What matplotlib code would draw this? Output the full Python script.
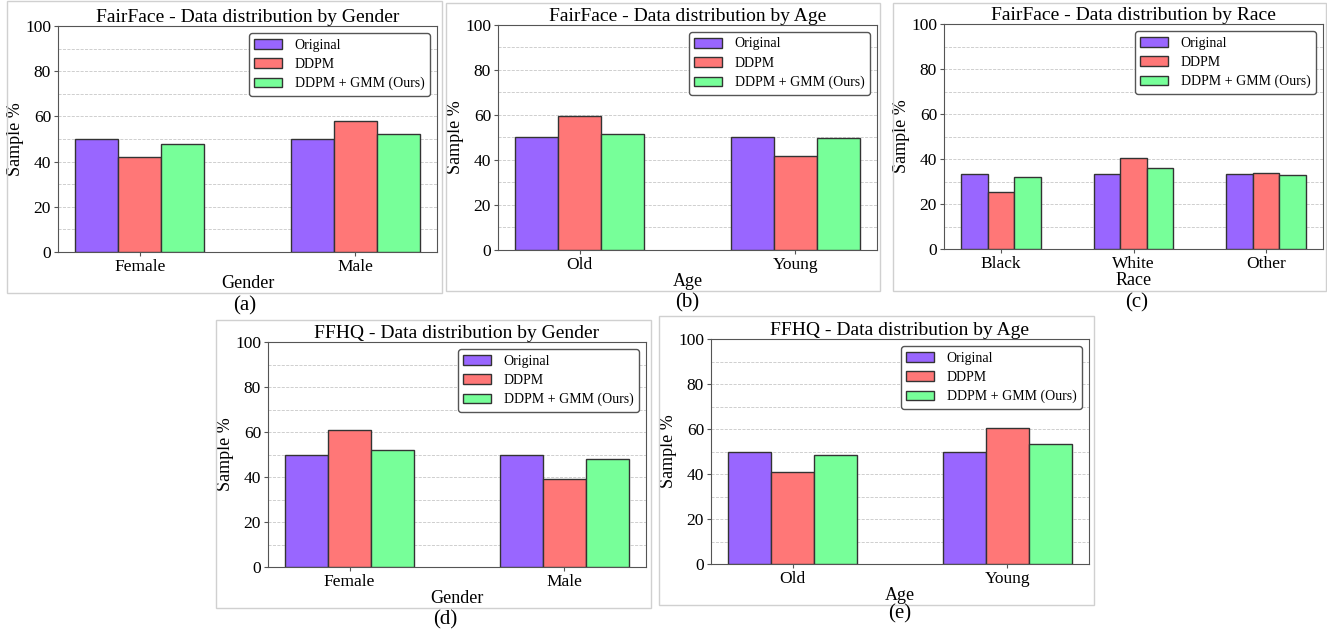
import matplotlib
matplotlib.use("Agg")
import matplotlib.pyplot as plt
import numpy as np
from matplotlib.patches import Rectangle

plt.rcParams['font.family'] = ['Liberation Serif', 'DejaVu Serif']

series_names = ["Original", "DDPM", "DDPM + GMM (Ours)"]
series_colors = ["#9966ff", "#ff7777", "#77ff99"]

# Panel (a) FairFace - Gender
a_categories = ["Female", "Male"]
a_original = [50, 50]
a_ddpm = [42, 58]
a_ours = [48, 52]

# Panel (b) FairFace - Age
b_categories = ["Old", "Young"]
b_original = [50, 50]
b_ddpm = [59.6, 41.6]
b_ours = [51.4, 49.6]

# Panel (c) FairFace - Race
c_categories = ["Black", "White", "Other"]
c_original = [33.3, 33.3, 33.3]
c_ddpm = [25.3, 40.3, 33.8]
c_ours = [32.0, 36.0, 32.9]

# Panel (d) FFHQ - Gender
d_categories = ["Female", "Male"]
d_original = [50, 50]
d_ddpm = [61.0, 39.0]
d_ours = [52.1, 47.9]

# Panel (e) FFHQ - Age
e_categories = ["Old", "Young"]
e_original = [50, 50]
e_ddpm = [40.9, 60.3]
e_ours = [48.3, 53.2]

W, H = 1327, 629
fig = plt.figure(figsize=(W / 100, H / 100), dpi=100)

def px_axes(l, r, t, b):
    return fig.add_axes([l / W, 1 - b / H, (r - l) / W, (b - t) / H])

def border(l, r, t, b):
    fig.patches.append(Rectangle((l / W, 1 - b / H), (r - l) / W, (b - t) / H,
                                 transform=fig.transFigure, fill=False,
                                 edgecolor="#d0d0d0", linewidth=1.0))

def caption(x, y, s):
    fig.text(x / W, 1 - y / H, s, ha="center", va="center", fontsize=15)

def panel(ax, title, xlabel, cats, vals_list):
    x = np.arange(len(cats))
    w = 0.2
    for i, (vals, name, col) in enumerate(zip(vals_list, series_names, series_colors)):
        ax.bar(x + (i - 1) * w, vals, w, color=col, edgecolor="#333333",
               linewidth=1.0, label=name, zorder=3)
    ax.set_ylim(0, 100)
    ax.set_yticks(np.arange(0, 101, 20))
    ax.set_yticks(np.arange(10, 100, 20), minor=True)
    ax.tick_params(axis='y', which='minor', length=0)
    ax.set_xticks(x)
    ax.set_xticklabels(cats)
    ax.tick_params(labelsize=12.5, length=3, pad=2, color="#555555")
    ax.yaxis.grid(True, which='both', linestyle='--', color='#c8c8c8', linewidth=0.6, zorder=0)
    ax.set_axisbelow(True)
    for s in ax.spines.values():
        s.set_color("#555555")
    ax.set_title(title, fontsize=14, pad=3)
    ax.set_xlabel(xlabel, fontsize=13, labelpad=0)
    ax.set_ylabel("Sample %", fontsize=13, labelpad=1)
    leg = ax.legend(loc="upper right", fontsize=10, fancybox=True, framealpha=1,
                    edgecolor="#555555", borderaxespad=0.5, labelspacing=0.45,
                    handletextpad=0.9)
    leg.get_frame().set_linewidth(1.0)

# borders
border(7, 442, 1, 293)
border(446, 880, 3, 291)
border(893, 1326, 3, 291)
border(216, 651, 320, 608)
border(659, 1094, 316, 605)

ax = px_axes(58, 437, 26, 252)
panel(ax, "FairFace - Data distribution by Gender", "Gender", a_categories, [a_original, a_ddpm, a_ours])
ax = px_axes(498, 877, 25, 250)
panel(ax, "FairFace - Data distribution by Age", "Age", b_categories, [b_original, b_ddpm, b_ours])
ax = px_axes(944, 1323, 24, 249)
panel(ax, "FairFace - Data distribution by Race", "Race", c_categories, [c_original, c_ddpm, c_ours])
ax = px_axes(268, 646, 342, 567)
panel(ax, "FFHQ - Data distribution by Gender", "Gender", d_categories, [d_original, d_ddpm, d_ours])
ax = px_axes(711, 1089, 339, 564)
panel(ax, "FFHQ - Data distribution by Age", "Age", e_categories, [e_original, e_ddpm, e_ours])

caption(245, 306, "(a)")
caption(687, 303, "(b)")
caption(1137, 303, "(c)")
caption(445, 620, "(d)")
caption(900, 614, "(e)")

fig.savefig("out.png", dpi=100, facecolor="white")
